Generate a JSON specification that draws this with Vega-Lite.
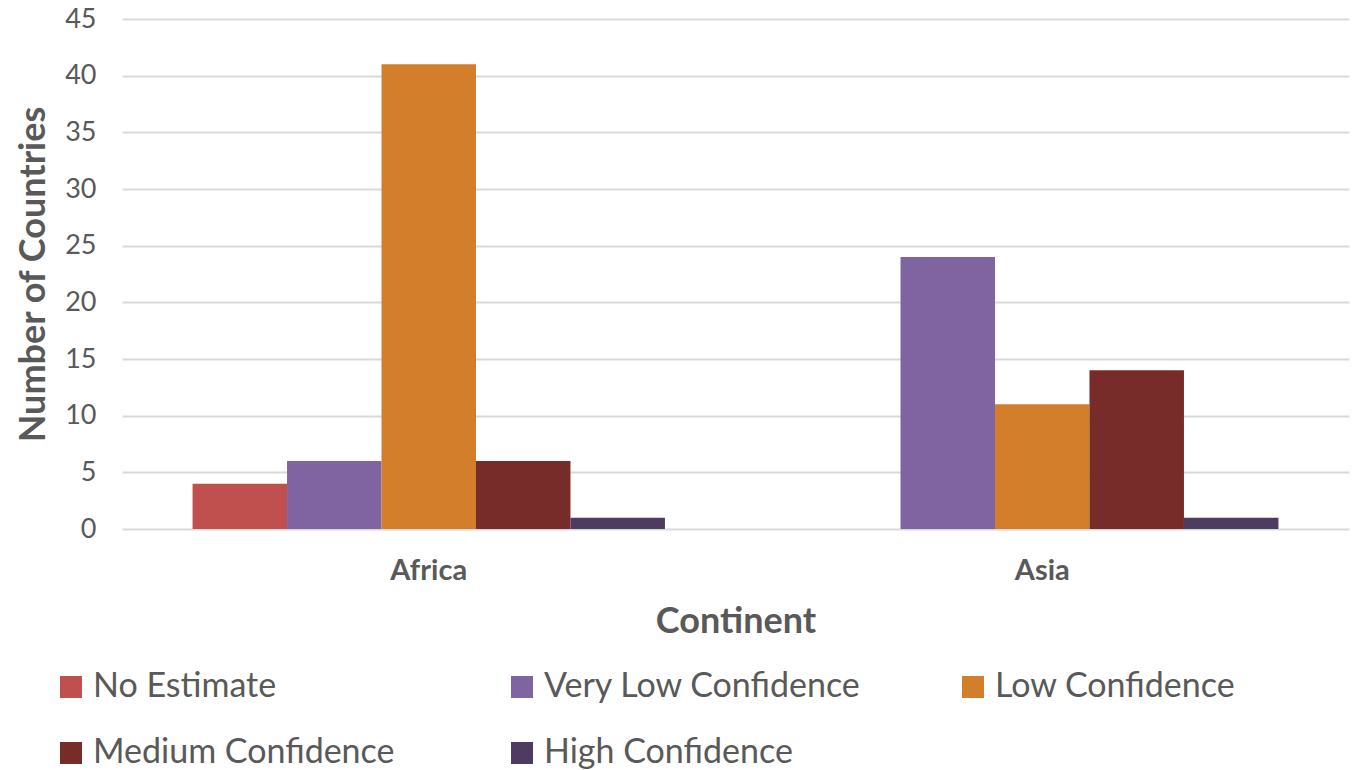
{
  "$schema": "https://vega.github.io/schema/vega-lite/v6.json",
  "width": 1227,
  "height": 510,
  "autosize": {"type": "none"},
  "padding": {"left": 122, "top": 19, "right": 14, "bottom": 241},
  "background": "white",
  "config": {
    "font": "Lato",
    "view": {"stroke": null},
    "axis": {"labelFont": "Lato", "titleFont": "Lato", "labelColor": "#595959", "titleColor": "#595959"}
  },
  "data": {
    "values": [
      {"continent": "Africa", "confidence": "No Estimate", "count": 4},
      {"continent": "Africa", "confidence": "Very Low Confidence", "count": 6},
      {"continent": "Africa", "confidence": "Low Confidence", "count": 41},
      {"continent": "Africa", "confidence": "Medium Confidence", "count": 6},
      {"continent": "Africa", "confidence": "High Confidence", "count": 1},
      {"continent": "Asia", "confidence": "No Estimate", "count": 0},
      {"continent": "Asia", "confidence": "Very Low Confidence", "count": 24},
      {"continent": "Asia", "confidence": "Low Confidence", "count": 11},
      {"continent": "Asia", "confidence": "Medium Confidence", "count": 14},
      {"continent": "Asia", "confidence": "High Confidence", "count": 1}
    ]
  },
  "mark": {"type": "bar"},
  "encoding": {
    "x": {
      "field": "continent",
      "type": "nominal",
      "scale": {"paddingInner": 0.23, "paddingOuter": 0.115},
      "axis": {
        "title": "Continent",
        "labelAngle": 0,
        "labelFontSize": 29,
        "labelFontWeight": "bold",
        "labelPadding": 27,
        "ticks": false,
        "domain": false,
        "titleFontSize": 36,
        "titleFontWeight": "bold",
        "titlePadding": 19
      }
    },
    "xOffset": {
      "field": "confidence",
      "type": "nominal",
      "sort": ["No Estimate", "Very Low Confidence", "Low Confidence", "Medium Confidence", "High Confidence"],
      "scale": {"paddingInner": 0, "paddingOuter": 0}
    },
    "y": {
      "field": "count",
      "type": "quantitative",
      "scale": {"domain": [0, 45]},
      "axis": {
        "title": "Number of Countries",
        "values": [0, 5, 10, 15, 20, 25, 30, 35, 40, 45],
        "labelFontSize": 27,
        "labelPadding": 26,
        "ticks": false,
        "domain": false,
        "gridColor": "#D9D9D9",
        "gridWidth": 2,
        "titleFontSize": 36,
        "titleFontWeight": "bold",
        "titlePadding": 12
      }
    },
    "color": {
      "field": "confidence",
      "type": "nominal",
      "title": null,
      "sort": ["No Estimate", "Very Low Confidence", "Low Confidence", "Medium Confidence", "High Confidence"],
      "scale": {
        "domain": ["No Estimate", "Very Low Confidence", "Low Confidence", "Medium Confidence", "High Confidence"],
        "range": ["#C0504D", "#8064A2", "#D27E2A", "#772C2A", "#4E3B62"]
      },
      "legend": {
        "orient": "none",
        "legendX": -68,
        "legendY": 651,
        "direction": "horizontal",
        "columns": 3,
        "gridAlign": "all",
        "columnPadding": 94,
        "rowPadding": 32,
        "symbolType": "square",
        "symbolSize": 484,
        "symbolStrokeWidth": 0,
        "symbolOffset": 0,
        "labelOffset": 5,
        "labelFontSize": 34,
        "labelColor": "#595959",
        "labelFont": "Lato",
        "labelLimit": 500
      }
    }
  }
}
